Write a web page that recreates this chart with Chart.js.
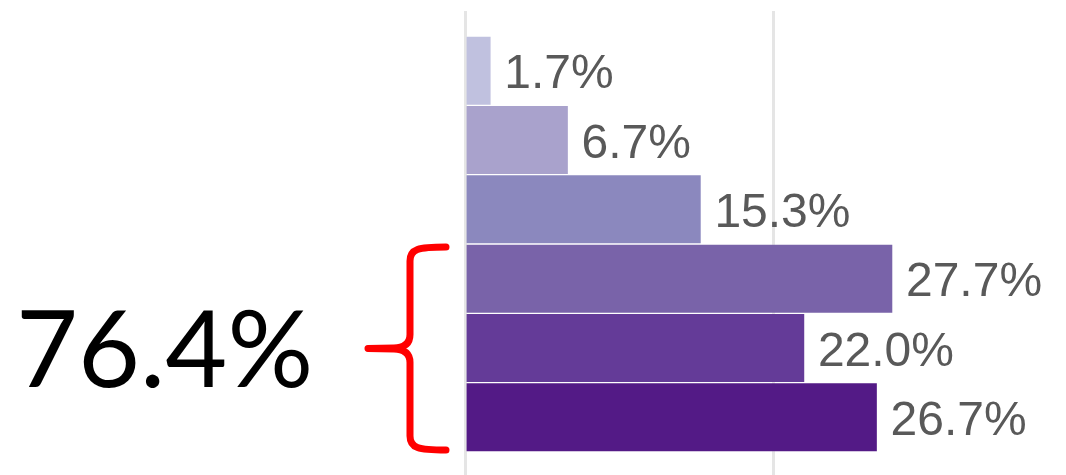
<!DOCTYPE html>
<html>
<head>
<meta charset="utf-8">
<script src="https://cdn.jsdelivr.net/npm/chart.js@4"></script>
<style>
  html, body { margin: 0; padding: 0; background: #fff; }
  #wrap { position: relative; width: 1066px; height: 475px; }
  #total {
    position: absolute; left: 16px; top: 292px;
    font-family: Lato, "Open Sans", sans-serif; font-size: 107px; line-height: 107px;
    color: #000; white-space: nowrap;
  }
</style>
</head>
<body>
<div id="wrap">
  <canvas id="dist"></canvas>
  <div id="total">76.4%</div>
</div>
<script>
// share of responses per level, top to bottom
const levels = ['1', '2', '3', '4', '5', '6'];
const shares = [1.7, 6.7, 15.3, 27.7, 22.0, 26.7];
const barColors = ['#c0c1df', '#a9a2cc', '#8b88be', '#7963a9', '#643b98', '#531a86'];
const gridTicks = [0, 20];
// levels grouped by the red brace
const braceFrom = 3, braceTo = 5;

const gridColor = ctx => gridTicks.includes(ctx.tick && ctx.tick.value) ? 'rgba(0,0,0,0.1)' : 'rgba(0,0,0,0)';

// value labels to the right of each bar
const valueLabels = {
  id: 'valueLabels',
  afterDatasetsDraw(chart) {
    const ctx = chart.ctx;
    const meta = chart.getDatasetMeta(0);
    ctx.save();
    ctx.font = '48px "Liberation Sans", Arial, sans-serif';
    ctx.fillStyle = '#595959';
    ctx.textAlign = 'left';
    ctx.textBaseline = 'alphabetic';
    meta.data.forEach((bar, i) => {
      ctx.fillText(shares[i].toFixed(1) + '%', bar.x + 13, bar.y + 17.5);
    });
    ctx.restore();
  }
};

// red curly brace beside the grouped bars
const brace = {
  id: 'brace',
  afterDraw(chart) {
    const y = chart.scales.y;
    const band = y.getPixelForValue(1) - y.getPixelForValue(0);
    const y0 = y.getPixelForValue(braceFrom) - band / 2 + 3;
    const y1 = y.getPixelForValue(braceTo) + band / 2 - 2;
    const mid = (y0 + y1) / 2;
    const left = chart.chartArea.left;
    const xe = left - 19, xs = left - 55, xt = left - 97;
    const ctx = chart.ctx;
    ctx.save();
    ctx.strokeStyle = '#ff0000';
    ctx.lineWidth = 7;
    ctx.lineCap = 'round';
    ctx.lineJoin = 'round';
    ctx.beginPath();
    ctx.moveTo(xe, y0);
    ctx.bezierCurveTo(xs + 8, y0, xs, y0 + 2, xs, y0 + 14);
    ctx.lineTo(xs, mid - 14);
    ctx.quadraticCurveTo(xs, mid - 1, xs - 16, mid - 0.5);
    ctx.lineTo(xt, mid);
    ctx.lineTo(xs - 16, mid + 0.5);
    ctx.quadraticCurveTo(xs, mid + 1, xs, mid + 14);
    ctx.lineTo(xs, y1 - 14);
    ctx.bezierCurveTo(xs, y1 - 2, xs + 8, y1, xe, y1);
    ctx.stroke();
    ctx.restore();
  }
};

new Chart(document.getElementById('dist'), {
  type: 'bar',
  data: {
    labels: levels,
    datasets: [{
      data: shares,
      backgroundColor: barColors,
      borderColor: 'rgba(255,255,255,0.15)',
      borderWidth: 1,
      categoryPercentage: 1,
      barPercentage: 1
    }]
  },
  options: {
    indexAxis: 'y',
    responsive: true,
    maintainAspectRatio: false,
    animation: false,
    layout: { padding: { left: 465, top: 11, right: 0, bottom: 0 } },
    plugins: { legend: { display: false }, tooltip: { enabled: false } },
    scales: {
      y: { type: 'category', display: false },
      x: {
        position: 'bottom', min: 0, max: 38.9, z: 1,
        ticks: { display: false, stepSize: 20 },
        grid: { color: gridColor, lineWidth: 3, tickLength: 23, drawTicks: true },
        border: { display: false }
      },
      x2: {
        position: 'top', min: 0, max: 38.9, z: 1,
        ticks: { display: false, stepSize: 20 },
        grid: { color: gridColor, lineWidth: 3, tickLength: 25, drawOnChartArea: false },
        border: { display: false }
      }
    }
  },
  plugins: [valueLabels, brace]
});
</script>
</body>
</html>
